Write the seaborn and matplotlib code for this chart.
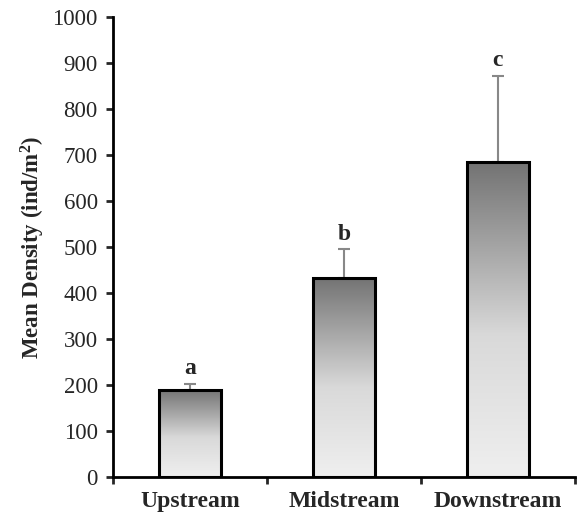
import seaborn as sns
from matplotlib import pyplot as plt
import matplotlib.colors as mcolors
import pandas as pd
import numpy as np

sns.set_theme(style='ticks')
plt.rcParams['font.family'] = ['Liberation Serif', 'DejaVu Serif']
plt.rcParams['mathtext.fontset'] = 'custom'
plt.rcParams['mathtext.rm'] = 'Liberation Serif'
plt.rcParams['mathtext.bf'] = 'Liberation Serif:bold'

sites = ['Upstream', 'Midstream', 'Downstream']
mean_density = [190, 433, 685]
error_up = [12, 62, 187]
letters = ['a', 'b', 'c']

df = pd.DataFrame({'site': sites, 'density': mean_density})

fig = plt.figure(figsize=(5.8, 5.2), dpi=100)
ax = fig.add_axes([0.195, 0.083, 0.796, 0.884])

sns.barplot(x='site', y='density', data=df, ax=ax, color='white',
            edgecolor='black', linewidth=2.2, width=0.4, zorder=3)

# gradient fill clipped to each bar
cmap = mcolors.LinearSegmentedColormap.from_list(
    'grad', [(0.0, '#efefef'), (0.45, '#d9d9d9'), (1.0, '#737373')])
grad = np.linspace(0, 1, 256).reshape(-1, 1)
for bar in ax.patches:
    x0, y0 = bar.get_x(), bar.get_y()
    w, h = bar.get_width(), bar.get_height()
    im = ax.imshow(grad, cmap=cmap, aspect='auto', origin='lower',
                   extent=[x0, x0 + w, y0, y0 + h], zorder=2)
    im.set_clip_path(bar)
    bar.set_facecolor('none')

ax.errorbar(range(len(sites)), mean_density, yerr=[[0] * 3, error_up],
            fmt='none', ecolor='#888888', elinewidth=1.5, capsize=4,
            capthick=1.5, zorder=1)

for i, (m, e, l) in enumerate(zip(mean_density, error_up, letters)):
    ax.text(i, m + e + 10, l, ha='center', va='bottom', fontsize=17,
            fontweight='bold')

ax.set_xlim(-0.5, 2.5)
ax.set_ylim(0, 1000)
ax.set_yticks(range(0, 1001, 100))
ax.set_xticks(np.arange(-0.5, 2.6, 1), minor=False)
ax.set_xticklabels([])
ax.set_xticks(range(3), minor=True)
ax.set_xticklabels(sites, minor=True, fontsize=17, fontweight='bold')
ax.tick_params(axis='x', which='minor', length=0, pad=10)
ax.tick_params(axis='x', which='major', direction='out', length=5, width=2)
ax.tick_params(axis='y', direction='out', length=5, width=2, labelsize=16.5,
               pad=6)
ax.set_xlabel('')
ax.set_ylabel('Mean Density (ind/m$\\mathbf{^{2}}$)', fontsize=16.5,
              fontweight='bold', labelpad=4)

for s in ['top', 'right']:
    ax.spines[s].set_visible(False)
for s in ['left', 'bottom']:
    ax.spines[s].set_linewidth(2)
    ax.spines[s].set_color('black')
ax.autoscale(False)

plt.savefig('out.png', dpi=100)
